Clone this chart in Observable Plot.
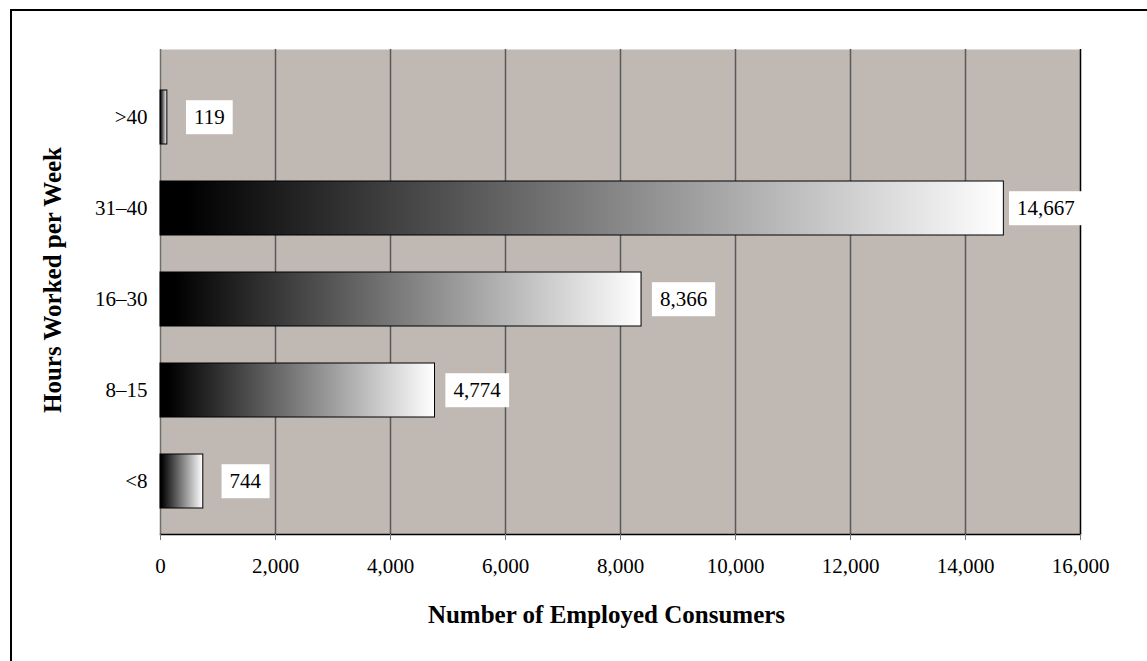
<!DOCTYPE html>
<html>
<head>
<meta charset="utf-8">
<script src="https://cdn.jsdelivr.net/npm/d3@7"></script>
<script src="https://cdn.jsdelivr.net/npm/@observablehq/plot@0.6"></script>
<style>
  html, body { margin: 0; padding: 0; background: #fff; overflow: hidden; }
  #wrap { position: relative; width: 1147px; height: 661px; overflow: hidden; }
  #border { position: absolute; left: 10px; top: 9px; width: 2000px; height: 2000px;
            border-left: 2px solid #000; border-top: 2px solid #000; box-sizing: border-box; }
  #chart { position: absolute; left: 0; top: 0; }
</style>
</head>
<body>
<div id="wrap"><div id="border"></div><div id="chart"></div></div>
<script>
const categories = [">40", "31–40", "16–30", "8–15", "<8"];
const values = [119, 14667, 8366, 4774, 744];
const xTicks = [0, 2000, 4000, 6000, 8000, 10000, 12000, 14000, 16000];
const gridTicks = [2000, 4000, 6000, 8000, 10000, 12000, 14000];
const yTitle = "Hours Worked per Week";
const xTitle = "Number of Employed Consumers";

const data = categories.map((c, i) => ({hours: c, count: values[i]}));
const fmt = d3.format(",");
const serif = "'Liberation Serif', 'Times New Roman', serif";

const chart = Plot.plot({
  width: 1147,
  height: 661,
  marginLeft: 160,
  marginRight: 67,
  marginTop: 49,
  marginBottom: 127,
  style: {fontFamily: serif, fontSize: "21px", color: "#000", background: "transparent", overflow: "visible"},
  x: {domain: [0, 16000]},
  y: {domain: categories, range: [68.7, 527.9], paddingInner: 0.412, paddingOuter: 0.206},
  marks: [
    Plot.frame({fill: "#c0b8b3", stroke: "none"}),
    Plot.gridX(gridTicks, {stroke: "#5a5a5a", strokeOpacity: 1, strokeWidth: 1.5}),
    Plot.ruleX([0], {stroke: "#6e6e6e", strokeWidth: 1.5}),
    Plot.ruleX([16000], {stroke: "#000", strokeWidth: 1.5}),
    Plot.frame({anchor: "bottom", stroke: "#000", strokeWidth: 1.5}),
    Plot.barX(data, {x: "count", y: "hours", fill: "url(#barGrad)", stroke: "#000", strokeWidth: 1}),
    Plot.axisX(xTicks, {tickFormat: fmt, tickSize: 6, tickPadding: 18, stroke: "#777", label: null, fontSize: 21, fill: "#000"}),
    Plot.axisY({tickSize: 0, tickPadding: 13, label: null, fontSize: 21, fill: "#000"}),
    Plot.text(data, {x: "count", y: "hours", text: d => fmt(d.count), dx: 42, fill: "#000", fontSize: 21}),
    Plot.text([yTitle], {frameAnchor: "left", textAnchor: "middle", lineAnchor: "middle", rotate: -90, dx: -108, dy: -12, fontWeight: "bold", fontSize: 25, fill: "#000"}),
    Plot.text([xTitle], {frameAnchor: "bottom", textAnchor: "middle", lineAnchor: "middle", dx: -14, dy: 80, fontWeight: "bold", fontSize: 25, fill: "#000"})
  ]
});

document.getElementById("chart").appendChild(chart);

// gradient definition for the bars (each bar uses its own bounding box)
const svg = d3.select(chart);
const defs = svg.insert("defs", ":first-child");
const grad = defs.append("linearGradient").attr("id", "barGrad")
  .attr("x1", 0).attr("x2", 1).attr("y1", 0).attr("y2", 0);
grad.append("stop").attr("offset", 0).attr("stop-color", "#000");
grad.append("stop").attr("offset", 0.03).attr("stop-color", "#000");
grad.append("stop").attr("offset", 1).attr("stop-color", "#fff");

// white boxes behind the value labels
const labelSet = new Set(values.map(fmt));
svg.selectAll('g[aria-label="text"] text').each(function() {
  if (!labelSet.has(this.textContent)) return;
  const bb = this.getBBox();
  const padX = 8, padY = 5;
  const r = document.createElementNS("http://www.w3.org/2000/svg", "rect");
  r.setAttribute("x", bb.x - padX);
  r.setAttribute("y", bb.y - padY);
  r.setAttribute("width", bb.width + 2 * padX);
  r.setAttribute("height", bb.height + 2 * padY);
  r.setAttribute("fill", "#fff");
  r.setAttribute("stroke", "none");
  const t = this.getAttribute("transform");
  if (t) r.setAttribute("transform", t);
  this.parentNode.insertBefore(r, this);
});
</script>
</body>
</html>
